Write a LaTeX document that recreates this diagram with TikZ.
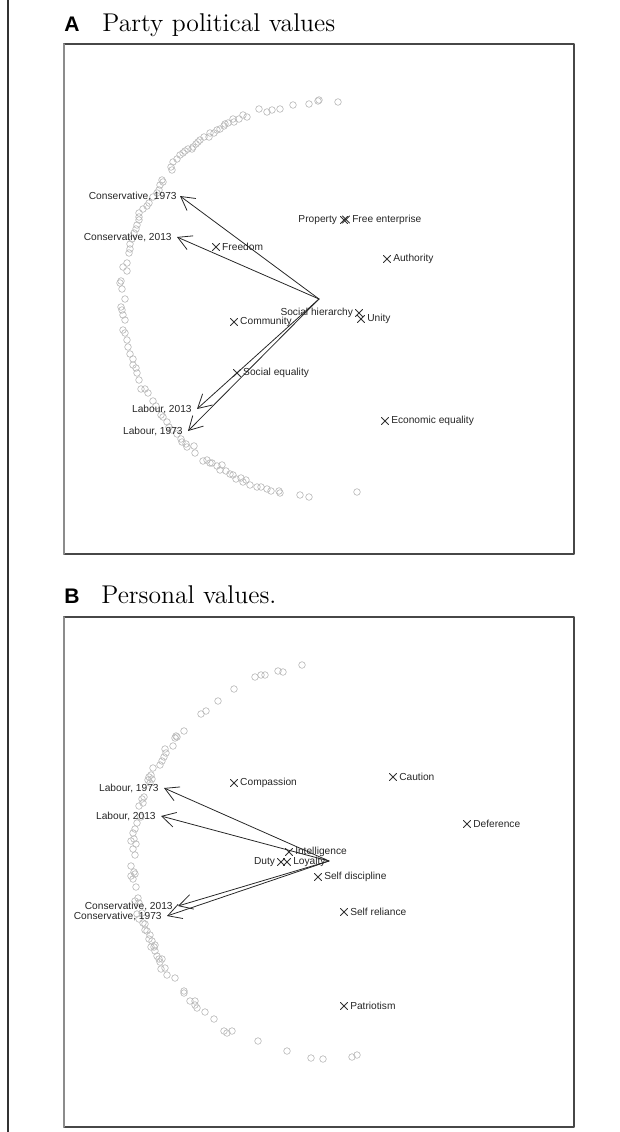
\documentclass[tikz,border=0pt]{standalone}
\usepackage{fontspec}
\newfontfamily\labfont{Liberation Sans}
\usetikzlibrary{arrows.meta,positioning,shapes.misc}

\begin{document}
\begin{tikzpicture}[x=0.02cm,y=-0.02cm,line cap=round,line join=round,
  frame/.style={draw=black!72,line width=0.8pt},
  pt/.style={draw=black!28,line width=0.35pt},
  vx/.style={draw=black!80,cross out,minimum size=0.13cm,inner sep=0pt,line width=0.45pt},
  lab/.style={font=\labfont\fontsize{5.8}{7}\selectfont,inner sep=0pt,text=black!85},
  vec/.style={-{Straight Barb[length=0.27cm,width=0.3cm]},draw=black!85,line width=0.45pt},
  tag/.style={font=\labfont\bfseries\fontsize{12}{14}\selectfont,inner sep=0pt,anchor=base west},
  ttl/.style={font=\fontsize{14.6}{17}\selectfont,inner sep=0pt,anchor=base west}]
\useasboundingbox (0,0) rectangle (619,1132);
% rule at the left margin
\draw[black!80,line width=0.8pt] (8,0) -- (8,1132);

% ---------------- panel A
\node[tag] (tagA) at (64,32) {A};
\node[ttl] (ttlA) at (102,32) {Party political values};
\draw[frame] (64,44) rectangle (574,554);
\draw[black!45,line width=0.8pt] (64,44) -- (64,554);
% respondents
\foreach \x/\y in {259/109,267/112,272/110,280/109,293/105,309/104,318/101,319/100,338/102,
  247/117,243/115,239/119,233/119,234/122,228/123,225/124,224/126,220/129,217/130,214/133,
  210/133,209/137,204/137,200/140,198/142,196/144,193/147,192/149,188/149,185/151,183/153,
  180/155,177/159,173/162,171/167,172/170,162/180,163/182,160/185,159/190,157/193,153/197,
  149/203,147/206,143/209,139/213,139/217,139/220,137/225,136/229,134/233,132/239,130/244,
  130/249,129/253,127/263,123/267,127/271,121/281,120/283,122/289,125/299,121/307,122/310,
  123/315,125/320,123/330,125/333,127/340,128/347,130/354,133/359,133/365,136/368,137/373,
  139/380,141/389,145/389,148/393,153/401,156/406,161/415,163/417,167/422,169/427,172/430,
  177/434,181/439,182/442,186/444,187/447,194/446,195/453,203/461,207/460,210/463,212/463,
  217/466,222/465,220/470,226/471,230/474,233/475,236/479,241/478,243/482,246/480,250/485,
  257/487,261/487,267/489,271/491,279/491,280/493,300/495,309/497,357/492}
  \draw[pt] (\x,\y) circle[radius=0.066cm];
% values
\node[vx] (propty) at (344,220) {};
\node[vx] (freent) at (346,219.5) {};
\node[lab,left=0.06cm of propty] (proptyl) {Property};
\node[lab,right=0.045cm of freent] (freentl) {Free enterprise};
\node[vx] (auth) at (387,259) {};
\node[lab,right=0.045cm of auth] (authl) {Authority};
\node[vx] (freed) at (216,247) {};
\node[lab,right=0.045cm of freed] (freedl) {Freedom};
\node[vx] (hier) at (359,313) {};
\node[lab,left=0.04cm of hier] (hierl) {Social hierarchy};
\node[vx] (unity) at (361,319) {};
\node[lab,right=0.045cm of unity] (unityl) {Unity};
\node[vx] (commun) at (234,322) {};
\node[lab,right=0.045cm of commun] (communl) {Community};
\node[vx] (soceq) at (237,373) {};
\node[lab,right=0.045cm of soceq] (soceql) {Social equality};
\node[vx] (ecoeq) at (385,421) {};
\node[lab,right=0.045cm of ecoeq] (ecoeql) {Economic equality};
% parties
\coordinate (oA) at (319,299);
\coordinate (con73a) at (180,196);
\coordinate (con13a) at (177,237);
\coordinate (lab13a) at (197,409);
\coordinate (lab73a) at (188,431);
\node[lab,left=0.06cm of con73a] (con73al) {Conservative, 1973};
\node[lab,left=0.1cm of con13a] (con13al) {Conservative, 2013};
\node[lab,left=0.1cm of lab13a] (lab13al) {Labour, 2013};
\node[lab,left=0.1cm of lab73a] (lab73al) {Labour, 1973};
\draw[vec] (oA) -- (con73a);
\draw[vec] (oA) -- (con13a);
\draw[vec] (oA) -- (lab13a);
\draw[vec] (oA) -- (lab73a);

% ---------------- panel B
\node[tag] (tagB) at (64,603) {B};
\node[ttl] (ttlB) at (101,603) {Personal values.};
\draw[frame] (64,617) rectangle (574,1127);
\draw[black!45,line width=0.8pt] (64,617) -- (64,1127);
% respondents
\foreach \x/\y in {302/665,283/672,278/671,265/675,261/675,255/677,234/689,218/701,206/711,
  201/714,184/731,177/737,175/738,176/736,173/746,165/749,166/753,164/757,162/761,160/765,
  153/768,151/775,149/777,152/779,148/780,150/783,144/797,142/799,143/803,139/806,141/817,
  137/823,135/829,133/833,134/839,131/841,136/844,133/849,135/855,131/866,134/872,135/874,
  131/876,133/879,136/887,138/898,135/901,139/903,142/913,137/914,139/919,143/923,145/924,
  145/930,147/931,150/935,149/939,152/941,155/945,151/947,154/947,155/951,157/956,159/959,
  162/959,160/962,165/968,161/969,167/975,175/978,184/991,184/993,190/1001,195/1001,
  195/1005,197/1008,205/1012,214/1019,224/1031,227/1033,232/1031,258/1041,287/1051,
  311/1058,323/1059,352/1057,357/1055}
  \draw[pt] (\x,\y) circle[radius=0.066cm];
% values
\node[vx] (caut) at (393,777) {};
\node[lab,right=0.045cm of caut] (cautl) {Caution};
\node[vx] (compas) at (234,783) {};
\node[lab,right=0.045cm of compas] (compasl) {Compassion};
\node[vx] (defer) at (467,824) {};
\node[lab,right=0.045cm of defer] (deferl) {Deference};
\node[vx] (intel) at (289,852) {};
\node[lab,right=0.045cm of intel] (intell) {Intelligence};
\node[vx] (duty) at (281,862) {};
\node[lab,left=0.04cm of duty] (dutyl) {Duty};
\node[vx] (loyal) at (287,862) {};
\node[lab,right=0.045cm of loyal] (loyall) {Loyalty};
\node[vx] (selfd) at (318,877) {};
\node[lab,right=0.045cm of selfd] (selfdl) {Self discipline};
\node[vx] (selfr) at (344,912) {};
\node[lab,right=0.045cm of selfr] (selfrl) {Self reliance};
\node[vx] (patr) at (344,1006) {};
\node[lab,right=0.045cm of patr] (patrl) {Patriotism};
% parties
\coordinate (oB) at (329,861);
\coordinate (lab73b) at (164,788);
\coordinate (lab13b) at (161,816);
\coordinate (con13b) at (178,906);
\coordinate (con73b) at (167,916);
\node[lab,left=0.1cm of lab73b] (lab73bl) {Labour, 1973};
\node[lab,left=0.1cm of lab13b] (lab13bl) {Labour, 2013};
\node[lab,left=0.1cm of con13b] (con13bl) {Conservative, 2013};
\node[lab,left=0.1cm of con73b] (con73bl) {Conservative, 1973};
\draw[vec] (oB) -- (lab73b);
\draw[vec] (oB) -- (lab13b);
\draw[vec] (oB) -- (con13b);
\draw[vec] (oB) -- (con73b);
\end{tikzpicture}
\end{document}
